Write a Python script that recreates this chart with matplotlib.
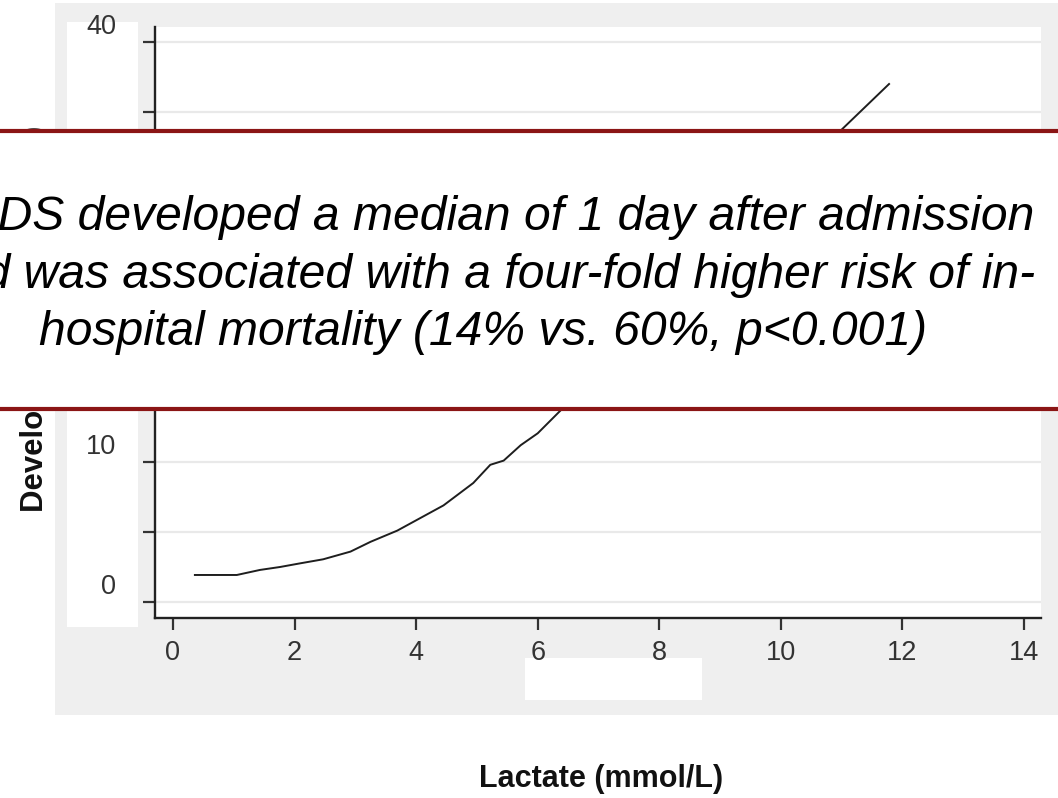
import matplotlib
matplotlib.use("Agg")
import matplotlib.pyplot as plt
from matplotlib.patches import Rectangle
from matplotlib.lines import Line2D
import matplotlib.transforms as mtransforms

# ---- data ----
lactate = [0.36, 1.05, 1.43, 1.76, 2.09, 2.47, 2.92, 3.25, 3.69, 4.07, 4.45,
           4.94, 5.22, 5.44, 5.72, 6.0, 6.38, 7.0, 8.0, 9.0, 10.0, 10.99, 11.78]
ards_pct = [1.93, 1.93, 2.29, 2.5, 2.76, 3.05, 3.6, 4.3, 5.1, 6.0, 6.9,
            8.5, 9.8, 10.1, 11.2, 12.05, 13.7, 16.4, 20.7, 25.0, 29.3, 33.7, 37.0]
xticks = [0, 2, 4, 6, 8, 10, 12, 14]
yticks_minor = [0, 5, 10, 15, 20, 25, 30, 35, 40]
ytick_labels = [0, 10, 20, 30, 40]
x_label = "Lactate (mmol/L)"
y_label = "Development of ARDS (%)"
callout_lines = [
    "ARDS developed a median of 1 day after admission",
    "and was associated with a four-fold higher risk of in-",
    "hospital mortality (14% vs. 60%, p<0.001)",
]

W, H = 1058, 798
fig = plt.figure(figsize=(W / 100, H / 100), dpi=100)
fig.patch.set_facecolor("white")
plt.rcParams["font.family"] = ["Liberation Sans", "DejaVu Sans"]


def fx(px):
    return px / W


def fy(py):
    return 1 - py / H


def frect(x0, y0, x1, y1, color, z):
    r = Rectangle((fx(x0), fy(y1)), fx(x1) - fx(x0), fy(y0) - fy(y1),
                  transform=fig.transFigure, facecolor=color,
                  edgecolor="none", zorder=z)
    fig.add_artist(r)
    return r


# gray graph-region background and white patches from the slide
frect(55, 3, 1058, 715, "#efefef", -5)
frect(67, 22, 138, 627, "white", -4)
frect(525, 658, 702, 700, "white", -4)

# ---- axes ----
ax = fig.add_axes([fx(155), fy(618), fx(1041) - fx(155), fy(27) - fy(618)])
ax.set_facecolor("white")
ppu_x = (1024 - 173) / 14.0
ppu_y = 14.0
ax.set_xlim((155 - 173) / ppu_x, (1041 - 173) / ppu_x)
ax.set_ylim((602 - 618) / ppu_y, (602 - 27) / ppu_y)

for s in ["top", "right"]:
    ax.spines[s].set_visible(False)
for s in ["left", "bottom"]:
    ax.spines[s].set_linewidth(1.7)
    ax.spines[s].set_color("#222222")

ax.set_xticks(xticks)
ax.set_xticklabels([str(t) for t in xticks])
ax.set_yticks(yticks_minor)
ax.set_yticklabels([])
ax.tick_params(axis="both", direction="out", length=8.6, width=1.6,
               color="#333333")
ax.tick_params(axis="x", labelsize=19.5, labelcolor="#333333", pad=7)
ax.grid(axis="y", color="#e9e9e9", linewidth=1.6)
ax.set_axisbelow(True)

# y tick labels (shifted up as in the original slide)
trans = mtransforms.blended_transform_factory(fig.transFigure, ax.transData)
offset = mtransforms.ScaledTranslation(0, 15 / 100, fig.dpi_scale_trans)
for v in ytick_labels:
    ax.text(fx(116), v, str(v), transform=trans + offset, ha="right",
            va="center", fontsize=19.5, color="#333333", clip_on=False)

ax.plot(lactate, ards_pct, color="#1e1e1e", linewidth=1.4)

# axis titles
fig.text(fx(601), fy(787), x_label, ha="center", va="baseline",
         fontsize=22, fontweight="bold", color="#111111")
fig.text(fx(43), fy(512), y_label, rotation=90, rotation_mode="anchor",
         ha="left", va="baseline", fontsize=22.4, fontweight="bold",
         color="#111111")

# ---- callout box over the chart ----
frect(0, 131, 1058, 409, "white", 10)
for yy in (131, 409):
    fig.add_artist(Line2D([0, 1], [fy(yy), fy(yy)], transform=fig.transFigure,
                          color="#8b1515", linewidth=3, zorder=11))
for line, base in zip(callout_lines, [230, 288, 345]):
    fig.text(fx(483), fy(base), line, ha="center", va="baseline",
             fontsize=34.6, fontstyle="italic", color="black", zorder=12)

fig.savefig("out.png", dpi=100)
